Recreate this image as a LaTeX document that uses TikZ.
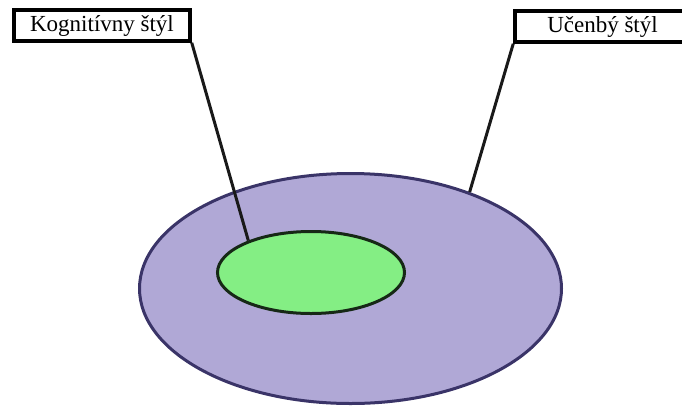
\documentclass[tikz,border=0pt]{standalone}
\usepackage{fontspec}
\setmainfont{Liberation Serif}
\usepackage{xcolor}
\usepackage{tikz}
\usetikzlibrary{shapes.geometric, positioning}

\definecolor{lavender}{RGB}{176,168,214}
\definecolor{navyedge}{RGB}{58,52,104}
\definecolor{lightgreen}{RGB}{132,238,132}
\definecolor{darkgreen}{RGB}{22,40,22}

\tikzset{
  labelbox/.style={rectangle, draw=black, line width=3.5pt, fill=white, inner sep=0pt,
    minimum height=31pt, font=\fontsize{23}{27}\selectfont},
  pointer/.style={line width=3pt, draw=black!90}
}

\begin{document}
\begin{tikzpicture}[x=1pt, y=-1pt]
  \useasboundingbox (0,0) rectangle (682,408);
  % outer and inner styles
  \node[ellipse, draw=navyedge, line width=3pt, fill=lavender, inner sep=0pt,
        minimum width=422pt, minimum height=230pt] (ucell) at (350.5,288.5) {};
  \node[ellipse, draw=darkgreen, line width=3pt, fill=lightgreen, inner sep=0pt,
        minimum width=187pt, minimum height=82pt] (kogell) at (311,272.5) {};
  % labels
  \node[labelbox, minimum width=176pt] (kog) at (102,25.5) {Kognitívny štýl};
  \node[labelbox, minimum width=175pt] (uc) at (602.5,26.5) {Učenbý štýl};
  % pointers
  \draw[pointer] (kog.south east) -- (kogell.153);
  \draw[pointer] (uc.south west) -- (ucell.39);
\end{tikzpicture}
\end{document}
